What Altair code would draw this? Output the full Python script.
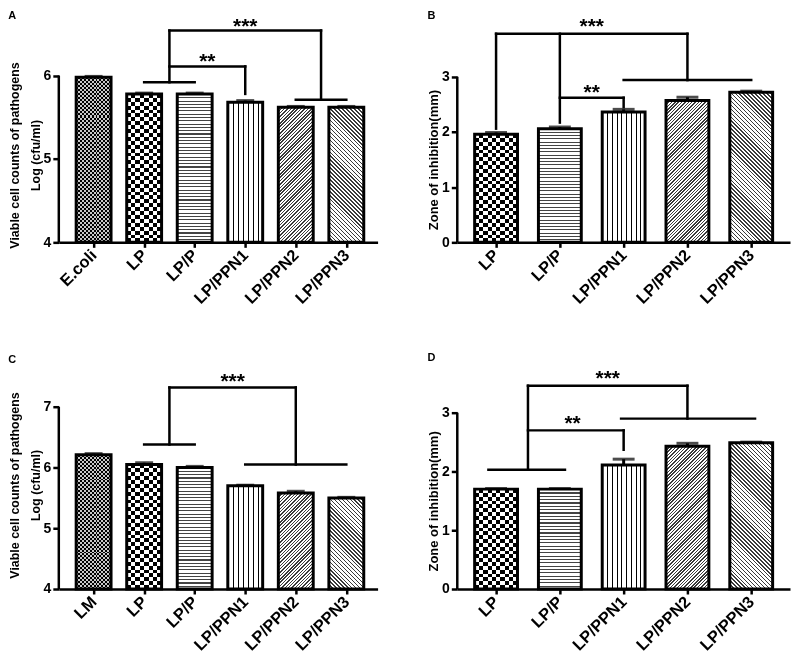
import json
import math
import altair as alt
import pandas as pd

FONT = "Liberation Sans, Arial, Helvetica, sans-serif"

# ---------------- data ----------------
cats_A = ["E.coli", "LP", "LP/P", "LP/PPN1", "LP/PPN2", "LP/PPN3"]
vals_A = [5.98, 5.78, 5.78, 5.68, 5.62, 5.62]
errs_A = [0.01, 0.01, 0.01, 0.02, 0.01, 0.01]

cats_B = ["LP", "LP/P", "LP/PPN1", "LP/PPN2", "LP/PPN3"]
vals_B = [1.96, 2.06, 2.36, 2.57, 2.72]
errs_B = [0.03, 0.03, 0.05, 0.06, 0.02]

cats_C = ["LM", "LP", "LP/P", "LP/PPN1", "LP/PPN2", "LP/PPN3"]
vals_C = [6.21, 6.05, 6.00, 5.70, 5.58, 5.50]
errs_C = [0.02, 0.03, 0.02, 0.01, 0.03, 0.01]

cats_D = ["LP", "LP/P", "LP/PPN1", "LP/PPN2", "LP/PPN3"]
vals_D = [1.70, 1.70, 2.11, 2.43, 2.49]
errs_D = [0.01, 0.01, 0.10, 0.05, 0.01]

# significance brackets: (x, y, x2, y2) in category index / value units
brk_A = [(1.5, 6.54, 4.5, 6.54), (1.5, 6.54, 1.5, 5.92), (1.0, 5.92, 2.0, 5.92),
         (4.5, 6.54, 4.5, 5.71), (4.0, 5.71, 5.0, 5.71),
         (1.5, 6.11, 3.0, 6.11), (3.0, 6.11, 3.0, 5.78)]
stars_A = [("***", 3.0, 6.63), ("**", 2.25, 6.21)]

brk_B = [(0.0, 3.78, 3.0, 3.78), (0.0, 3.78, 0.0, 2.06), (1.0, 3.78, 1.0, 2.17),
         (3.0, 3.78, 3.0, 2.94), (2.0, 2.94, 4.0, 2.94),
         (1.0, 2.62, 2.0, 2.62), (2.0, 2.62, 2.0, 2.45)]
stars_B = [("***", 1.5, 3.97), ("**", 1.5, 2.78)]

brk_C = [(1.5, 7.32, 4.0, 7.32), (1.5, 7.32, 1.5, 6.38), (1.0, 6.38, 2.0, 6.38),
         (4.0, 7.32, 4.0, 6.05), (3.0, 6.05, 5.0, 6.05)]
stars_C = [("***", 2.75, 7.48)]

brk_D = [(0.5, 3.46, 3.0, 3.46), (0.5, 3.46, 0.5, 2.03), (-0.12, 2.03, 1.08, 2.03),
         (3.0, 3.46, 3.0, 2.90), (1.96, 2.90, 4.06, 2.90),
         (0.5, 2.70, 2.0, 2.70), (2.0, 2.70, 2.0, 2.37)]
stars_D = [("***", 1.75, 3.64), ("**", 1.2, 2.88)]

# ---------------- fill patterns (style only) ----------------
EPS = 1e-6
CLEAR = "rgba(255,255,255,0)"


def stripes(n, frac, dark, light, x1, y1, x2, y2):
    stops = []
    for k in range(n):
        a, b, c = k / n, (k + frac) / n, (k + 1) / n
        stops += [{"offset": round(a, 5), "color": dark},
                  {"offset": round(b, 5), "color": dark},
                  {"offset": round(b, 5), "color": light},
                  {"offset": round(c, 5), "color": light}]
    return {"gradient": "linear", "x1": x1, "y1": y1, "x2": x2, "y2": y2, "stops": stops}


def hstripes(h, period, frac, dark, light):
    return stripes(max(1, round(h / period)), frac, dark, light, 0, 0, EPS, 1)


def vstripes(w, period, frac, dark, light):
    return stripes(max(1, round(w / period)), frac, dark, light, 0, 0, 1, 0)


def diag(w, h, period, frac, dark, light, rising):
    k = (w + h) / (w * w + h * h)
    n = max(1, round((w + h) / math.sqrt(2) / period))
    if rising:
        return stripes(n, frac, dark, light, 0, 0, k * w, k * h)
    return stripes(n, frac, dark, light, 0, 1, k * w, 1 - k * h)


def fills(cat, w, h):
    """returns (base fill, overlay fill or None)"""
    if cat in ("E.coli", "LM"):
        cell = 2.0
        return (hstripes(h, 2 * cell, 0.5, "#000000", "#c8c8c8"),
                vstripes(w, 2 * cell, 0.5, "#c8c8c8", CLEAR))
    if cat == "LP":
        cell = 4.0
        return (hstripes(h, 2 * cell, 0.5, "#000000", "#ffffff"),
                vstripes(w, 2 * cell, 0.5, "#ffffff", CLEAR))
    if cat == "LP/P":
        return hstripes(h, 3.3, 0.33, "#444444", "#ffffff"), None
    if cat == "LP/PPN1":
        return vstripes(w, 5.0, 0.22, "#000000", "#ffffff"), None
    if cat == "LP/PPN2":
        return diag(w, h, 2.4, 0.42, "#3a3a3a", "#ffffff", True), None
    return diag(w, h, 2.8, 0.38, "#3a3a3a", "#ffffff", False), None


# ---------------- panel builder ----------------
def panel(letter, cats, vals, errs, base, ymax, yticks, xdom, width, height,
          barw, capw, brk, stars, ytitle, tfs, tshift, toff):
    n = len(cats)
    ppu = height / (ymax - base)
    df = pd.DataFrame({"i": list(range(n)), "cat": cats, "v": vals, "e": errs})
    df["top"] = df["v"] + df["e"]
    df["b"] = base
    mid = (yticks[0] + yticks[-1]) / 2.0
    title_y = (ymax - mid) * ppu + tshift

    xscale = alt.Scale(domain=xdom, nice=False, zero=False)
    yscale = alt.Scale(domain=[base, ymax], nice=False, zero=False)
    xaxis = alt.Axis(values=list(range(n)), labelExpr=f"{json.dumps(cats)}[datum.value]",
                     title=None, labelAngle=-45, labelAlign="right", labelBaseline="middle",
                     labelFontSize=16.5, tickSize=5, labelPadding=5, domain=True,
                     labelFlush=False, labelOverlap=False, labelBound=False)
    yaxis = alt.Axis(values=yticks, format="d", title=ytitle, domain=False,
                     labelFontSize=14, tickSize=6, labelPadding=2, labelFlush=False,
                     titleFontSize=tfs, titleLineHeight=21, titlePadding=1, titleY=title_y)

    def X(f):
        return alt.X(f, type="quantitative", scale=xscale, axis=xaxis)

    def Y(f):
        return alt.Y(f, type="quantitative", scale=yscale, axis=yaxis)

    layers = []
    overlays = []
    for k, (c, v) in enumerate(zip(cats, vals)):
        f1, f2 = fills(c, barw, (v - base) * ppu)
        src = alt.Chart(df).transform_filter(alt.datum.i == k)
        layers.append(src.mark_bar(size=barw, fill=f1, strokeWidth=0)
                      .encode(x=X("i"), y=Y("v"), y2=alt.Y2("b")))
        if f2 is not None:
            overlays.append(src.mark_bar(size=barw, fill=f2, strokeWidth=0, blend="difference")
                            .encode(x=X("i"), y=Y("v"), y2=alt.Y2("b")))
    outline = alt.Chart(df).mark_bar(size=barw, fill="transparent", stroke="black",
                                     strokeWidth=3).encode(x=X("i"), y=Y("v"), y2=alt.Y2("b"))
    err = alt.Chart(df).mark_rule(color="black", strokeWidth=3).encode(
        x=X("i"), y=Y("v"), y2=alt.Y2("top"))
    cap = alt.Chart(df).mark_tick(orient="horizontal", size=capw, thickness=3,
                                  color="black").encode(x=X("i"), y=Y("top"))

    bdf = pd.DataFrame(brk, columns=["x", "y", "x2", "y2"])
    brackets = alt.Chart(bdf).mark_rule(color="black", strokeWidth=2.5,
                                        strokeCap="square").encode(
        x=X("x"), x2=alt.X2("x2"), y=Y("y"), y2=alt.Y2("y2"))
    sdf = pd.DataFrame(stars, columns=["s", "x", "y"])
    startext = alt.Chart(sdf).mark_text(font=FONT, fontSize=21, fontWeight="bold",
                                        baseline="alphabetic", dy=10, color="black").encode(
        x=X("x"), y=Y("y"), text="s:N")
    adf = pd.DataFrame({"y0": [base], "y1": [yticks[-1]]})
    yline = alt.Chart(adf).mark_rule(color="black", strokeWidth=2.5).encode(
        x=alt.value(0), y=Y("y0"), y2=alt.Y2("y1"))

    return alt.layer(*layers, *overlays, outline, err, cap, brackets, startext, yline).properties(
        width=width, height=height,
        title=alt.TitleParams(letter, anchor="start", frame="bounds", font=FONT,
                              fontSize=11, fontWeight="bold", color="black", offset=toff))


YT_A = ["Viable cell counts of pathogens", "Log (cfu/ml)"]
YT_B = "Zone of inhibition(mm)"

pA = panel("A", cats_A, vals_A, errs_A, 4, 6.7, [4, 5, 6], [-0.59, 5.52], 320, 226,
           35, 18, brk_A, stars_A, YT_A, 12.5, -4, -5)
pB = panel("B", cats_B, vals_B, errs_B, 0, 4.08, [0, 1, 2, 3], [-0.53, 4.53], 334, 226,
           43, 22, brk_B, stars_B, YT_B, 13, 0, -5)
pC = panel("C", cats_C, vals_C, errs_C, 4, 7.61, [4, 5, 6, 7], [-0.59, 5.52], 320, 220,
           35, 18, brk_C, stars_C, YT_A, 12.5, -13, 5)
pD = panel("D", cats_D, vals_D, errs_D, 0, 3.73, [0, 1, 2, 3], [-0.53, 4.53], 334, 220,
           43, 22, brk_D, stars_D, YT_B, 13, 0, 5)

chart = alt.vconcat(
    alt.hconcat(pA, pB, spacing=50),
    alt.hconcat(pC, pD, spacing=50),
    spacing=45,
).properties(padding={"left": 0, "top": 0, "right": 2, "bottom": 0}).configure_view(
    stroke=None
).configure_axis(
    labelFont=FONT, titleFont=FONT, labelFontWeight="bold", titleFontWeight="bold",
    labelColor="black", titleColor="black", domainColor="black", tickColor="black",
    domainWidth=2.5, tickWidth=2.5, grid=False
)

chart.save("out.html", embed_options={"renderer": "svg", "actions": False})
